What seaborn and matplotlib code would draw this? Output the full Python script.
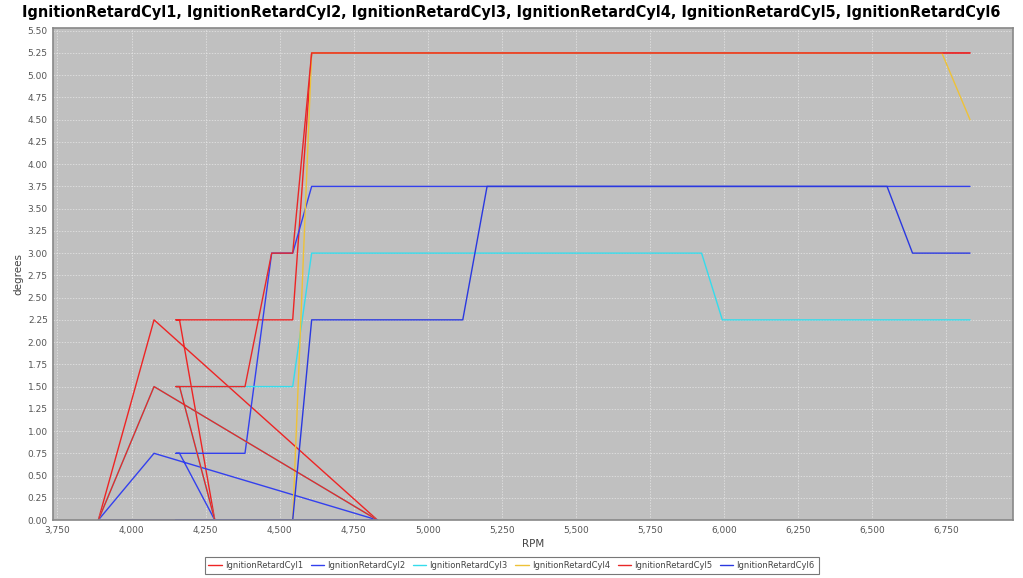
import pandas as pd
import seaborn as sns
import matplotlib.pyplot as plt
from matplotlib.ticker import MultipleLocator, FuncFormatter

# logged rpm samples (in time order) and retard per cylinder
rpm = [3888, 4076, 4830, 4281, 4162, 4150, 4383, 4473, 4544,
       4608, 5118, 5200, 5924, 5994, 6550, 6636, 6735, 6830]
cyl1 = [0, 2.25, 0, 0, 2.25, 2.25, 2.25, 2.25, 2.25,
        5.25, 5.25, 5.25, 5.25, 5.25, 5.25, 5.25, 5.25, 5.25]
cyl2 = [0, 0.75, 0, 0, 0.75, 0.75, 0.75, 3.0, 3.0,
        3.75, 3.75, 3.75, 3.75, 3.75, 3.75, 3.75, 3.75, 3.75]
cyl3 = [0, 1.5, 0, 0, 1.5, 1.5, 1.5, 1.5, 1.5,
        3.0, 3.0, 3.0, 3.0, 2.25, 2.25, 2.25, 2.25, 2.25]
cyl4 = [0, 0, 0, 0, 0, 0, 0, 0, 0,
        5.25, 5.25, 5.25, 5.25, 5.25, 5.25, 5.25, 5.25, 4.5]
cyl5 = [0, 1.5, 0, 0, 1.5, 1.5, 1.5, 3.0, 3.0,
        5.25, 5.25, 5.25, 5.25, 5.25, 5.25, 5.25, 5.25, 5.25]
cyl6 = [0, 0, 0, 0, 0, 0, 0, 0, 0,
        2.25, 2.25, 3.75, 3.75, 3.75, 3.75, 3.0, 3.0, 3.0]

names = ['IgnitionRetardCyl1', 'IgnitionRetardCyl2', 'IgnitionRetardCyl3',
         'IgnitionRetardCyl4', 'IgnitionRetardCyl5', 'IgnitionRetardCyl6']
colors = ['#EE2424', '#3340EE', '#35DCEC', '#EEC238', '#E82828', '#2A38E0']

frames = []
for name, vals in zip(names, [cyl1, cyl2, cyl3, cyl4, cyl5, cyl6]):
    frames.append(pd.DataFrame({'rpm': rpm, 'degrees': vals, 'series': name}))
df = pd.concat(frames, ignore_index=True)

sns.set_style('white')
plt.rcParams['font.family'] = ['DejaVu Sans']

fig = plt.figure(figsize=(10.23, 5.78), dpi=100)
ax = fig.add_axes([0.0521, 0.1003, 0.9381, 0.8507])
ax.set_facecolor('#C0C0C0')

sns.lineplot(data=df, x='rpm', y='degrees', hue='series', hue_order=names,
             palette=dict(zip(names, colors)), sort=False, estimator=None,
             units='series', linewidth=1.0, ax=ax)

ax.set_xlim(3736, 6975)
ax.set_ylim(0, 5.527)
ax.xaxis.set_major_locator(MultipleLocator(250))
ax.yaxis.set_major_locator(MultipleLocator(0.25))
ax.xaxis.set_major_formatter(FuncFormatter(lambda v, p: f'{v:,.0f}'))
ax.yaxis.set_major_formatter(FuncFormatter(lambda v, p: f'{v:.2f}'))
ax.grid(True, color='#F2F2F2', linestyle=(0, (2, 2)), linewidth=0.5, alpha=0.8)
ax.set_axisbelow(True)
for s in ax.spines.values():
    s.set_color('#888888')
    s.set_linewidth(1.2)
    s.set_zorder(5)
ax.tick_params(direction='out', length=2, width=0.6, color='#888888',
               labelsize=6.5, labelcolor='#555555', pad=2)

ax.set_xlabel('RPM', fontsize=7.5, color='#444444', labelpad=3)
ax.set_ylabel('degrees', fontsize=7.5, color='#444444', labelpad=3)

# title, shrunk so it spans roughly the same width as the reference
title = fig.text(0.5, 0.978, ', '.join(names), ha='center', va='center',
                 fontsize=12, fontweight='bold', color='black')
fig.canvas.draw()
w = title.get_window_extent().width
title.set_fontsize(12 * 975 / w)

sns.move_legend(ax, 'lower center', bbox_to_anchor=(0.5, 0.0),
                bbox_transform=fig.transFigure, ncol=6, title=None,
                frameon=True, fontsize=6, handlelength=1.6, handletextpad=0.4,
                columnspacing=0.9, borderpad=0.45, fancybox=False)
leg = ax.get_legend()
leg.get_frame().set_edgecolor('#555555')
leg.get_frame().set_linewidth(0.8)
for t in leg.get_texts():
    t.set_color('#444444')

fig.savefig('out.png', dpi=100, facecolor='white')
